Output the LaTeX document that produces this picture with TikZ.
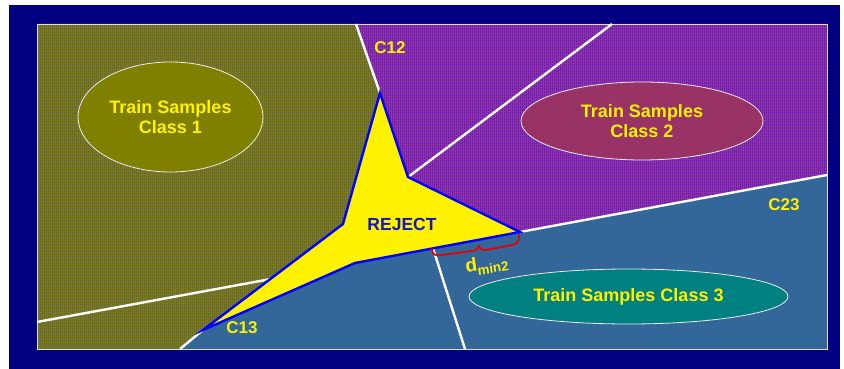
\documentclass[tikz,border=0pt]{standalone}
\usepackage{fontspec}
\setmainfont{Liberation Sans}
\usetikzlibrary{calc,patterns,shapes.geometric}
\definecolor{navybg}{RGB}{0,0,128}
\definecolor{oliveclass}{RGB}{128,128,0}
\definecolor{olivedots}{RGB}{80,80,150}
\definecolor{purpleclass}{RGB}{153,51,153}
\definecolor{purpledots}{RGB}{60,20,230}
\definecolor{steelclass}{RGB}{51,102,153}
\definecolor{plumfill}{RGB}{153,51,102}
\definecolor{tealfill}{RGB}{0,128,128}
\definecolor{rejectblue}{RGB}{20,20,200}
\definecolor{bracered}{RGB}{230,0,0}
\pgfdeclarepatternformonly{dotcolumns}{\pgfpointorigin}{\pgfpoint{2pt}{3pt}}{\pgfpoint{2pt}{3pt}}{\pgfpathrectangle{\pgfpointorigin}{\pgfpoint{1pt}{3pt}}\pgfusepath{fill}}

\begin{document}
\begin{tikzpicture}[x=1pt, y=-1pt,
  bound/.style={white, line width=2.4pt},
  sample/.style={ellipse, draw=white!85!gray, line width=0.8pt, inner sep=0pt,
    text=yellow, align=center, font=\fontsize{18}{20}\selectfont\bfseries},
  lbl/.style={text=yellow, font=\fontsize{17}{19}\selectfont\bfseries}]
\useasboundingbox (0,0) rectangle (844,369);
\fill[navybg] (9,5) rectangle (840,369);

% corners of the panel and of the reject star
\coordinate (NW) at (37,24); \coordinate (NE) at (827,24);
\coordinate (SE) at (827,349); \coordinate (SW) at (37,349);
\coordinate (T) at (380,93); \coordinate (IR) at (408,177);
\coordinate (R) at (520,232); \coordinate (B) at (355,263);
\coordinate (BL) at (203,330); \coordinate (IL) at (343,224);

% class regions
\path[fill=oliveclass, postaction={pattern=dotcolumns, pattern color=olivedots}]
  (NW) -- (356,24) -- (T) -- (IL) -- (BL) -- (180,349) -- (SW) -- cycle;
\path[fill=purpleclass, postaction={pattern=dotcolumns, pattern color=purpledots}]
  (356,24) -- (NE) -- (827,175) -- (R) -- (IR) -- (T) -- cycle;
\fill[steelclass] (827,175) -- (SE) -- (180,349) -- (BL) -- (B) -- (R) -- cycle;
\draw[white!75!gray, line width=0.8pt] (NW) rectangle (SE);

% decision boundaries
\draw[bound] (356,24) -- (T);
\draw[bound] (612,24) -- (IR);
\draw[bound] (R) -- (827,175);
\draw[bound] (37,322) -- ($(IL)!0.52!(BL)$);
\draw[bound] (180,349) -- (BL);
\draw[bound] ($(B)!0.473!(R)$) -- (465,349);

\filldraw[fill=yellow, draw=blue, line width=2.4pt, line join=miter]
  (T) -- (IR) -- (R) -- (B) -- (BL) -- (IL) -- cycle;
\node[text=rejectblue, font=\fontsize{17.5}{19}\selectfont\bfseries] (rej) at (402,224) {REJECT};

\node[sample, fill=oliveclass, minimum width=185pt, minimum height=110pt] (s1) at (170.5,117) {Train Samples\\Class 1};
\node[sample, fill=plumfill, minimum width=242pt, minimum height=78pt] (s2) at (642,121) {Train Samples\\Class 2};
\node[sample, fill=tealfill, minimum width=319pt, minimum height=55pt] (s3) at (628.5,296.5) {Train Samples Class 3};

\node[lbl] (c12) at (390,48) {C12};
\node[lbl] (c23) at (784,204.5) {C23};
\node[lbl] (c13) at (242,328) {C13};

% brace under the reject edge
\draw[bracered, line width=1.8pt, line cap=round]
  (432,249) .. controls (432,255) and (436,256) .. (442,255) -- (472,251)
  .. controls (477,250) and (478,249) .. (479,246)
  .. controls (480,249) and (481,250) .. (486,250) -- (512,245)
  .. controls (518,244) and (519,240) .. (519,235);
\node[text=yellow, font=\fontsize{19}{21}\selectfont\bfseries, rotate=8] (dmin) at (487,265)
  {d\textsubscript{min2}};
\end{tikzpicture}
\end{document}
